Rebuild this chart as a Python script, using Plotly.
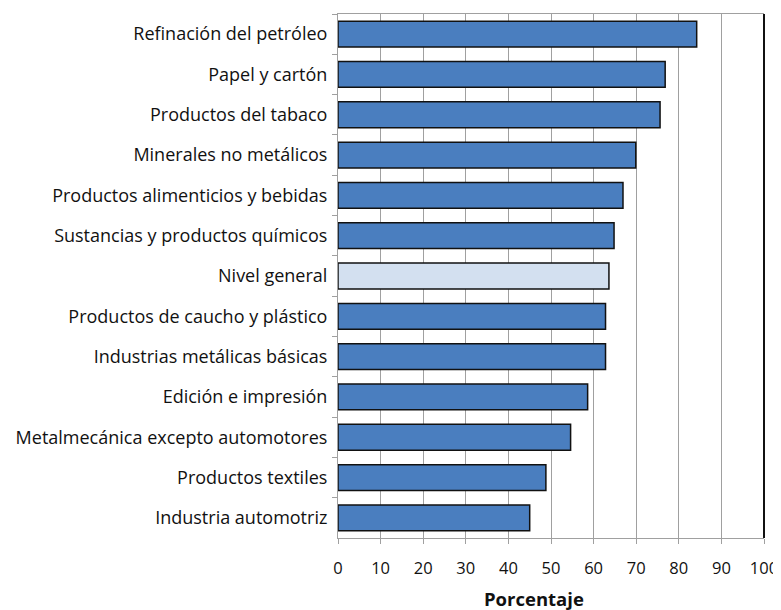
import plotly.graph_objects as go

categories = [
    "Refinación del petróleo",
    "Papel y cartón",
    "Productos del tabaco",
    "Minerales no metálicos",
    "Productos alimenticios y bebidas",
    "Sustancias y productos químicos",
    "Nivel general",
    "Productos de caucho y plástico",
    "Industrias metálicas básicas",
    "Edición e impresión",
    "Metalmecánica excepto automotores",
    "Productos textiles",
    "Industria automotriz",
]
values = [84.2, 76.8, 75.6, 69.9, 66.9, 64.8, 63.6, 62.8, 62.8, 58.6, 54.6, 48.8, 45.0]
x_ticks = [0, 10, 20, 30, 40, 50, 60, 70, 80, 90, 100]
x_title = "Porcentaje"

highlight = "Nivel general"
colors = ["#D3E0F0" if c == highlight else "#4A7EBF" for c in categories]

fig = go.Figure(go.Bar(
    x=values, y=categories, orientation="h",
    marker=dict(color=colors, line=dict(color="#111111", width=1.5)),
    width=0.64,
))

font_family = "'Open Sans', Lato, sans-serif"
# page body has an 8px margin; figure is sized/offset to compensate
fig.update_layout(
    width=773, height=602,
    margin=dict(l=330, r=17, t=6, b=72, autoexpand=False),
    paper_bgcolor="white", plot_bgcolor="white",
    showlegend=False,
    font=dict(family=font_family, size=17, color="#111111"),
    xaxis=dict(
        range=[0, 100], tickvals=x_ticks, ticktext=[str(v) for v in x_ticks],
        showgrid=True, gridcolor="#A0A0A0", gridwidth=1,
        showline=True, linecolor="#A0A0A0", linewidth=1,
        ticks="outside", ticklen=5, tickcolor="#A0A0A0",
        zeroline=False, mirror=True, automargin=False,
        ticklabelstandoff=10, ticklabeloverflow="allow",
        tickfont=dict(size=16.5),
    ),
    yaxis=dict(
        autorange="reversed", type="category", automargin=False,
        showline=True, linecolor="#A0A0A0", linewidth=1,
        ticks="outside", ticklen=5, tickcolor="#A0A0A0", tickson="boundaries",
        showgrid=False, ticklabelstandoff=6,
        tickfont=dict(size=18),
    ),
    annotations=[dict(text="<b>" + x_title + "</b>", xref="paper", yref="paper",
                      x=0.46, y=-0.116, xanchor="center", yanchor="middle",
                      showarrow=False, font=dict(size=18.5, family=font_family, color="#111111"))],
    shapes=[dict(type="line", xref="paper", yref="paper", x0=1, x1=1, y0=0, y1=1,
                 line=dict(color="#111111", width=2))],
)

fig.write_html("out.html")
